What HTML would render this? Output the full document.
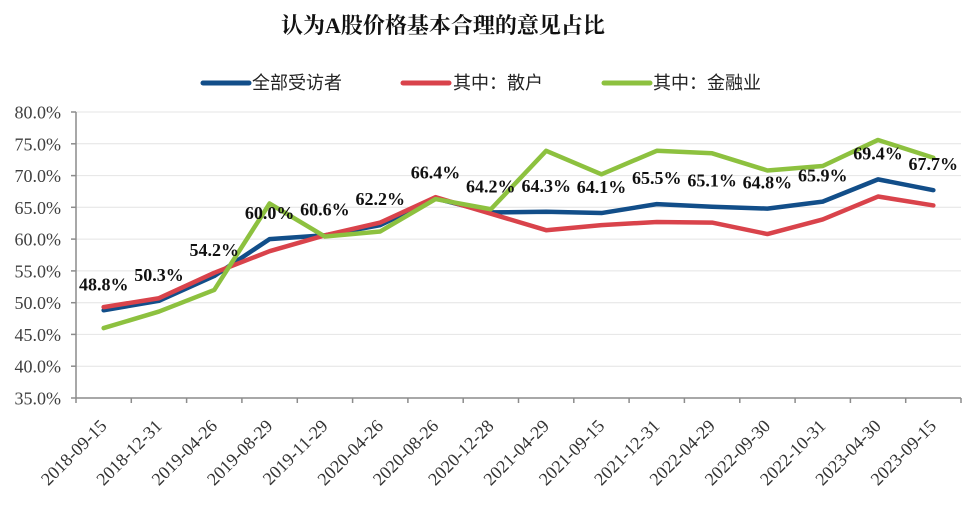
<!DOCTYPE html>
<html><head><meta charset="utf-8"><style>
html,body{margin:0;padding:0;background:#fff;}
svg{display:block;}
</style></head><body>
<svg width="976" height="517" viewBox="0 0 976 517" xmlns="http://www.w3.org/2000/svg">
<rect width="976" height="517" fill="#fff"/>
<text x="443" y="33" text-anchor="middle" font-family="'Liberation Serif','Noto Serif CJK SC',serif" font-weight="bold" font-size="22" fill="#111">认为A股价格基本合理的意见占比</text>
<!-- legend -->
<g font-family="'Liberation Sans','Noto Sans CJK SC',sans-serif" font-size="18" fill="#222">
<line x1="203" y1="83" x2="249" y2="83" stroke="#124E89" stroke-width="5" stroke-linecap="round"/>
<text x="252" y="89">全部受访者</text>
<line x1="403" y1="83" x2="449" y2="83" stroke="#D9434B" stroke-width="5" stroke-linecap="round"/>
<text x="453" y="89">其中：散户</text>
<line x1="604" y1="83" x2="650" y2="83" stroke="#8DC13F" stroke-width="5" stroke-linecap="round"/>
<text x="653" y="89">其中：金融业</text>
</g>
<!-- gridlines -->
<g stroke="#e4e4e4" stroke-width="1">
<line x1="76" y1="112" x2="961" y2="112"/>
<line x1="76" y1="143.8" x2="961" y2="143.8"/>
<line x1="76" y1="175.6" x2="961" y2="175.6"/>
<line x1="76" y1="207.3" x2="961" y2="207.3"/>
<line x1="76" y1="239.1" x2="961" y2="239.1"/>
<line x1="76" y1="270.9" x2="961" y2="270.9"/>
<line x1="76" y1="302.7" x2="961" y2="302.7"/>
<line x1="76" y1="334.4" x2="961" y2="334.4"/>
<line x1="76" y1="366.2" x2="961" y2="366.2"/>
</g>
<!-- axes -->
<g stroke="#8c8c8c" stroke-width="1.5">
<line x1="76" y1="112" x2="76" y2="398"/>
<line x1="76" y1="398" x2="961" y2="398"/>
<line x1="71" y1="112" x2="76" y2="112"/>
<line x1="71" y1="143.8" x2="76" y2="143.8"/>
<line x1="71" y1="175.6" x2="76" y2="175.6"/>
<line x1="71" y1="207.3" x2="76" y2="207.3"/>
<line x1="71" y1="239.1" x2="76" y2="239.1"/>
<line x1="71" y1="270.9" x2="76" y2="270.9"/>
<line x1="71" y1="302.7" x2="76" y2="302.7"/>
<line x1="71" y1="334.4" x2="76" y2="334.4"/>
<line x1="71" y1="366.2" x2="76" y2="366.2"/>
<line x1="71" y1="398" x2="76" y2="398"/>
<line x1="76" y1="398" x2="76" y2="403"/>
<line x1="131.3" y1="398" x2="131.3" y2="403"/>
<line x1="186.6" y1="398" x2="186.6" y2="403"/>
<line x1="241.9" y1="398" x2="241.9" y2="403"/>
<line x1="297.3" y1="398" x2="297.3" y2="403"/>
<line x1="352.6" y1="398" x2="352.6" y2="403"/>
<line x1="407.9" y1="398" x2="407.9" y2="403"/>
<line x1="463.2" y1="398" x2="463.2" y2="403"/>
<line x1="518.5" y1="398" x2="518.5" y2="403"/>
<line x1="573.8" y1="398" x2="573.8" y2="403"/>
<line x1="629.1" y1="398" x2="629.1" y2="403"/>
<line x1="684.4" y1="398" x2="684.4" y2="403"/>
<line x1="739.8" y1="398" x2="739.8" y2="403"/>
<line x1="795.1" y1="398" x2="795.1" y2="403"/>
<line x1="850.4" y1="398" x2="850.4" y2="403"/>
<line x1="905.7" y1="398" x2="905.7" y2="403"/>
<line x1="961" y1="398" x2="961" y2="403"/>
</g>
<!-- y labels -->
<g font-family="'Liberation Serif',serif" font-size="18" fill="#404040" text-anchor="end">
<text x="61" y="118.5">80.0%</text>
<text x="61" y="150.3">75.0%</text>
<text x="61" y="182.1">70.0%</text>
<text x="61" y="213.8">65.0%</text>
<text x="61" y="245.6">60.0%</text>
<text x="61" y="277.4">55.0%</text>
<text x="61" y="309.2">50.0%</text>
<text x="61" y="340.9">45.0%</text>
<text x="61" y="372.7">40.0%</text>
<text x="61" y="404.5">35.0%</text>
</g>
<!-- x labels -->
<g font-family="'Liberation Serif',serif" font-size="18" fill="#333" text-anchor="end">
<text transform="translate(107.7,427) rotate(-45)">2018-09-15</text>
<text transform="translate(163,427) rotate(-45)">2018-12-31</text>
<text transform="translate(218.3,427) rotate(-45)">2019-04-26</text>
<text transform="translate(273.6,427) rotate(-45)">2019-08-29</text>
<text transform="translate(328.9,427) rotate(-45)">2019-11-29</text>
<text transform="translate(384.2,427) rotate(-45)">2020-04-26</text>
<text transform="translate(439.5,427) rotate(-45)">2020-08-26</text>
<text transform="translate(494.8,427) rotate(-45)">2020-12-28</text>
<text transform="translate(550.2,427) rotate(-45)">2021-04-29</text>
<text transform="translate(605.5,427) rotate(-45)">2021-09-15</text>
<text transform="translate(660.8,427) rotate(-45)">2021-12-31</text>
<text transform="translate(716.1,427) rotate(-45)">2022-04-29</text>
<text transform="translate(771.4,427) rotate(-45)">2022-09-30</text>
<text transform="translate(826.7,427) rotate(-45)">2022-10-31</text>
<text transform="translate(882,427) rotate(-45)">2023-04-30</text>
<text transform="translate(937.3,427) rotate(-45)">2023-09-15</text>
</g>
<!-- series -->
<g fill="none" stroke-width="4.5" stroke-linejoin="round" stroke-linecap="round">
<polyline stroke="#124E89" points="103.66,310.29 158.97,300.76 214.28,275.97 269.59,239.11 324.91,235.30 380.22,225.13 435.53,198.43 490.84,212.42 546.16,211.78 601.47,213.05 656.78,204.15 712.09,206.70 767.41,208.60 822.72,201.61 878.03,179.37 933.34,190.17"/>
<polyline stroke="#D9434B" points="103.66,307.11 158.97,298.22 214.28,272.80 269.59,251.19 324.91,235.30 380.22,222.59 435.53,197.16 490.84,213.69 546.16,230.21 601.47,225.13 656.78,221.95 712.09,222.59 767.41,234.03 822.72,219.41 878.03,196.53 933.34,205.43"/>
<polyline stroke="#8DC13F" points="103.66,328.09 158.97,311.56 214.28,289.95 269.59,203.52 324.91,236.57 380.22,231.48 435.53,199.07 490.84,209.24 546.16,150.77 601.47,174.28 656.78,150.77 712.09,153.31 767.41,170.47 822.72,166.02 878.03,139.96 933.34,157.76"/>
</g>
<!-- data labels -->
<g font-family="'Liberation Serif',serif" font-weight="bold" font-size="18" fill="#111" text-anchor="middle">
<text x="103.7" y="290.3">48.8%</text>
<text x="159" y="280.8">50.3%</text>
<text x="214.3" y="256">54.2%</text>
<text x="269.6" y="219.1">60.0%</text>
<text x="324.9" y="215.3">60.6%</text>
<text x="380.2" y="205.1">62.2%</text>
<text x="435.5" y="178.4">66.4%</text>
<text x="490.8" y="192.4">64.2%</text>
<text x="546.2" y="191.8">64.3%</text>
<text x="601.5" y="193">64.1%</text>
<text x="656.8" y="184.2">65.5%</text>
<text x="712.1" y="186.7">65.1%</text>
<text x="767.4" y="188.6">64.8%</text>
<text x="822.7" y="181.6">65.9%</text>
<text x="878" y="159.4">69.4%</text>
<text x="933.3" y="170.2">67.7%</text>
</g>
</svg>
</body></html>
